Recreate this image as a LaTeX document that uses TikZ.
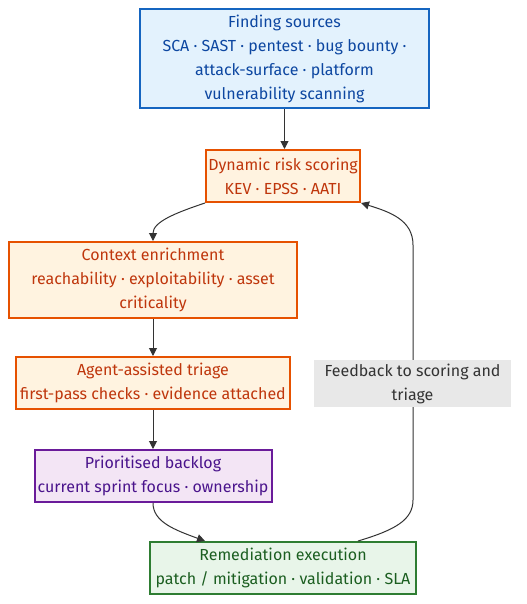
\documentclass[tikz,border=0pt]{standalone}
\usepackage{fontspec}
\setmainfont{Fira Sans}
\usetikzlibrary{arrows.meta,calc}
\definecolor{bfill}{HTML}{E3F2FD}\definecolor{bdraw}{HTML}{1565C0}\definecolor{btext}{HTML}{0D47A1}
\definecolor{ofill}{HTML}{FFF3E0}\definecolor{odraw}{HTML}{E65100}\definecolor{otext}{HTML}{BF360C}
\definecolor{pfill}{HTML}{F3E5F5}\definecolor{pdraw}{HTML}{6A1B9A}\definecolor{ptext}{HTML}{4A148C}
\definecolor{gfill}{HTML}{E8F5E9}\definecolor{gdraw}{HTML}{2E7D32}\definecolor{gtext}{HTML}{1B5E20}
\definecolor{lfill}{HTML}{E8E8E8}\definecolor{ltext}{HTML}{333333}\definecolor{edge}{HTML}{333333}
\begin{document}
\begin{tikzpicture}[x=0.75pt,y=-0.75pt,
  box/.style={draw,line width=1.5pt,inner sep=0pt,align=center,
    font=\fontsize{12}{18}\selectfont},
  bluebox/.style={box,fill=bfill,draw=bdraw,text=btext},
  orangebox/.style={box,fill=ofill,draw=odraw,text=otext},
  purplebox/.style={box,fill=pfill,draw=pdraw,text=ptext},
  greenbox/.style={box,fill=gfill,draw=gdraw,text=gtext},
  lbl/.style={fill=lfill,text=ltext,inner sep=0pt,align=center,font=\fontsize{12}{18}\selectfont},
  arr/.style={draw=edge,line width=0.75pt,-{Triangle[length=6pt,width=6pt]}}]
\useasboundingbox (0,0) rectangle (526,604);
\node[bluebox,minimum width=289*0.75pt,minimum height=99*0.75pt] (src) at (284.5,58.5)
  {Finding sources\\SCA · SAST · pentest · bug bounty ·\\attack-surface · platform\\vulnerability scanning};
\node[orangebox,minimum width=154*0.75pt,minimum height=52*0.75pt] (dyn) at (283,176)
  {Dynamic risk scoring\\KEV · EPSS · AATI};
\node[orangebox,minimum width=288*0.75pt,minimum height=76*0.75pt] (ctx) at (153,280)
  {Context enrichment\\reachability · exploitability · asset\\criticality};
\node[orangebox,minimum width=274*0.75pt,minimum height=52*0.75pt] (agt) at (153,383)
  {Agent-assisted triage\\first-pass checks · evidence attached};
\node[purplebox,minimum width=237*0.75pt,minimum height=52*0.75pt] (pri) at (153,476)
  {Prioritised backlog\\current sprint focus · ownership};
\node[greenbox,minimum width=266*0.75pt,minimum height=52*0.75pt] (rem) at (283,568)
  {Remediation execution\\patch / mitigation · validation · SLA};
\draw[arr] (src.south) -- (src.south |- dyn.north);
\draw[arr] (dyn.south west) .. controls (175,213) and (153,222) .. (ctx.north);
\draw[arr] (ctx.south) -- (agt.north);
\draw[arr] (agt.south) -- (pri.north);
\draw[arr] (pri.south) .. controls (153,522) and (175,530) .. ($(rem.north)+(-78,0)$);
\coordinate (fbA) at (413,500);
\coordinate (fbB) at (413,245);
\draw[arr] ($(rem.north)+(75,0)$) .. controls (395,530) and (413,520) .. (fbA) -- (fbB)
  .. controls (413,220) and (390,212) .. (dyn.south east);
\node[lbl,minimum width=197*0.75pt,minimum height=47*0.75pt] (fbl) at (412.5,383.5)
  {Feedback to scoring and\\triage};
\end{tikzpicture}
\end{document}
